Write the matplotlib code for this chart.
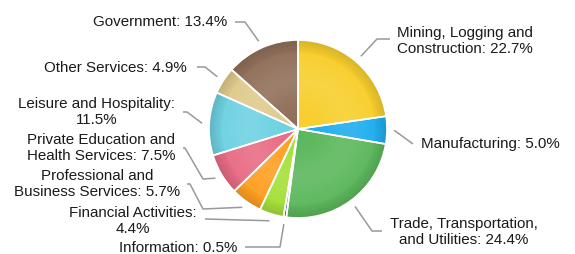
import numpy as np
import matplotlib
matplotlib.use("Agg")
import matplotlib.pyplot as plt
from matplotlib.patches import Circle

plt.rcParams['font.family'] = ['Liberation Sans', 'DejaVu Sans']

# data
sectors = ["Mining, Logging and\nConstruction", "Manufacturing",
           "Trade, Transportation,\nand Utilities", "Information",
           "Financial Activities:\n", "Professional and\nBusiness Services",
           "Private Education and\nHealth Services", "Leisure and Hospitality:\n",
           "Other Services", "Government"]
shares = [22.7, 5.0, 24.4, 0.5, 4.4, 5.7, 7.5, 11.5, 4.9, 13.4]
colors = ["#F8CF2E", "#20AEEF", "#5DB85D", "#3F51B5", "#A6E03A",
          "#FFA023", "#E96D86", "#6FD2E2", "#E0CB8E", "#91705B"]

W, H = 575, 255
cx, cy, R = 298, 130, 89


def P(x, y):
    # pixel (from top-left) -> data coords
    return x, H - y


# label layout: text anchor (pixel), alignment, connector bend points (pixel)
layout = [
    ((397, 41), 'left', [(390, 40), (377, 40)]),
    ((421, 144), 'left', [(413, 145)]),
    ((390, 232), 'left', [(382, 232), (372, 232)]),
    ((237, 248), 'right', [(245, 248), (280, 248)]),
    ((197, 221), 'right', [(205, 220)]),
    ((180, 184), 'right', [(187, 185), (190, 185), (203, 210)]),
    ((175, 148), 'right', [(183, 149), (185, 149), (203, 180)]),
    ((175, 112), 'right', [(183, 113), (187, 113)]),
    ((187, 68), 'right', [(197, 68), (205, 68)]),
    ((227, 22), 'right', [(235, 23), (245, 23)]),
]

fig = plt.figure(figsize=(W / 100, H / 100), dpi=100)
ax = fig.add_axes([0, 0, 1, 1])

wedges, _ = ax.pie(shares, colors=colors, startangle=90, counterclock=False,
                   center=P(cx, cy), radius=R, frame=True,
                   wedgeprops=dict(edgecolor='none', linewidth=0))

# soft radial shading over the pie
n = 300
gx, gy = np.meshgrid(np.linspace(-1, 1, n), np.linspace(-1, 1, n))
rr = np.sqrt(gx ** 2 + gy ** 2)
shade = np.zeros((n, n, 4))
dark = np.clip((rr - 0.84) / 0.16, 0, 1) * 0.14
light = np.exp(-((rr - 0.55) / 0.25) ** 2) * 0.10
shade[..., :3] = np.where(dark[..., None] > light[..., None], 0.0, 1.0)
shade[..., 3] = np.maximum(dark, light)
x0, y0 = P(cx, cy)
im = ax.imshow(shade, extent=(x0 - R, x0 + R, y0 - R, y0 + R), zorder=2,
               interpolation='bilinear')
im.set_clip_path(Circle((x0, y0), R, transform=ax.transData))

# white borders on top of the shading
ax.pie(shares, colors=['none'] * len(shares), startangle=90, counterclock=False,
       center=P(cx, cy), radius=R, frame=True,
       wedgeprops=dict(edgecolor='white', linewidth=1.2, zorder=3))

for w, name, val, (txt, ha, bends) in zip(wedges, sectors, shares, layout):
    mid = np.deg2rad((w.theta1 + w.theta2) / 2)
    ax_, ay_ = x0 + 1.08 * R * np.cos(mid), y0 + 1.08 * R * np.sin(mid)
    pts = [P(*b) for b in bends] + [(ax_, ay_)]
    xs, ys = zip(*pts)
    ax.plot(xs, ys, color='#999999', lw=1.1, zorder=4, solid_capstyle='butt')
    if name.endswith('\n'):
        label = f"{name}{val:.1f}%"
    else:
        label = f"{name}: {val:.1f}%"
    ax.text(*P(*txt), label, ha=ha, va='center', multialignment='center',
            fontsize=10.9, color='#1a1a1a', linespacing=1.15, zorder=5)

ax.set_xlim(0, W)
ax.set_ylim(0, H)
ax.set_aspect('equal')
ax.axis('off')

fig.savefig("out.png", dpi=100)
